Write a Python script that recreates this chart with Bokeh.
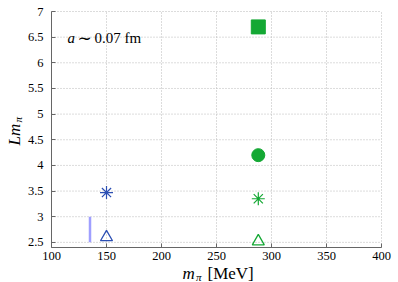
import math
from bokeh.plotting import figure
from bokeh.models import FixedTicker, CustomJSTickFormatter, Label, Range1d
from bokeh.embed import file_html
from bokeh.resources import INLINE

# data
blue_x = [150]
blue_star_y = [3.47]
blue_tri_y = [2.6]
green_x = [288]
green_square_y = [6.7]
green_circle_y = [4.2]
green_star_y = [3.35]
green_tri_y = [2.52]
band_x = [135]
band_y0 = [2.5]
band_y1 = [3.0]
xticks = [100, 150, 200, 250, 300, 350, 400]
yticks = [2.5, 3, 3.5, 4, 4.5, 5, 5.5, 6, 6.5, 7]
x_min, x_max = 100, 400
y_min, y_max = 2.4, 7

BLUE = "#2c4fb3"
GREEN = "#14a834"
FONT = "Liberation Serif"

W, H = 398, 282
# plot area inside the canvas (pixels)
left, right, top, bottom = 51, 381, 11, 247
sx = (right - left) / (x_max - x_min)
sy = (bottom - top) / (y_max - y_min)
xr = Range1d(x_min - left / sx, x_max + (W - right) / sx)
yr = Range1d(y_min - (H - bottom) / sy, y_max + top / sy)

p = figure(width=W, height=H, output_backend="svg", toolbar_location=None,
           x_range=xr, y_range=yr,
           min_border_left=0, min_border_right=0, min_border_top=0, min_border_bottom=0)
p.outline_line_color = None
p.background_fill_color = "white"
p.grid.visible = False

p.xaxis.fixed_location = y_min
p.yaxis.fixed_location = x_min
p.xaxis.bounds = (x_min, x_max)
p.yaxis.bounds = (y_min, y_max)
for ax, ticks in ((p.xaxis[0], xticks), (p.yaxis[0], yticks)):
    ax.ticker = FixedTicker(ticks=ticks)
    ax.formatter = CustomJSTickFormatter(code="return String(tick)")
    ax.major_tick_in = 4
    ax.major_tick_out = 0
    ax.minor_tick_line_color = None
    ax.axis_line_color = "#666666"
    ax.major_tick_line_color = "#666666"
    ax.major_label_text_font = FONT
    ax.major_label_text_font_size = "12.5px"
    ax.major_label_text_color = "black"
    ax.axis_label = None
p.xaxis.major_label_standoff = 4
p.yaxis.major_label_standoff = 8

# dotted grid
n_x = len(xticks)
n_y = len(yticks)
p.segment(x0=xticks, y0=[y_min] * n_x, x1=xticks, y1=[y_max] * n_x,
          line_color="#b8b8b8", line_dash="1 2", line_width=1, level="underlay")
p.segment(x0=[x_min] * n_y, y0=yticks, x1=[x_max] * n_y, y1=yticks,
          line_color="#b8b8b8", line_dash="1 2", line_width=1, level="underlay")

# marks
p.segment(x0=band_x, y0=band_y0, x1=band_x, y1=band_y1, line_color="#9f9fff", line_width=2.5)
p.scatter(blue_x, blue_star_y, marker="asterisk", size=13, line_color=BLUE, line_width=1.2)
p.scatter(blue_x, blue_tri_y, marker="triangle", size=12, line_color=BLUE, fill_color=None, line_width=1.3)
p.scatter(green_x, green_square_y, marker="square", size=14, line_color=GREEN, fill_color=GREEN)
p.scatter(green_x, green_circle_y, marker="circle", size=13, line_color=GREEN, fill_color=GREEN)
p.scatter(green_x, green_star_y, marker="asterisk", size=13, line_color=GREEN, line_width=1.2)
p.scatter(green_x, green_tri_y, marker="triangle", size=12, line_color=GREEN, fill_color=None, line_width=1.3)


def lab(text, x, y, size, italic=False, angle=0.0, align="left", font=FONT):
    p.add_layout(Label(x=x, y=H - y, x_units="screen", y_units="screen", text=text,
                       text_font=font, text_font_style="italic" if italic else "normal",
                       text_font_size=size, text_color="black", angle=angle,
                       text_align=align, text_baseline="alphabetic"))


# annotation a ~ 0.07 fm
lab("a", 67, 37, "15px", italic=True)
lab("∼", 77, 37, "17px", font="DejaVu Sans")
lab("0.07 fm", 94, 37, "15px")

# x axis label m_pi [MeV]
lab("m", 182, 273, "17px", italic=True)
lab("π", 195.5, 276, "11px", italic=True)
lab("[MeV]", 207, 273, "17px")

# y axis label L m_pi (rotated)
lab("Lm", 14, 145, "17px", italic=True, angle=math.pi / 2)
lab("π", 17, 122, "11px", italic=True, angle=math.pi / 2)

open("out.html", "w").write(file_html(p, INLINE))
